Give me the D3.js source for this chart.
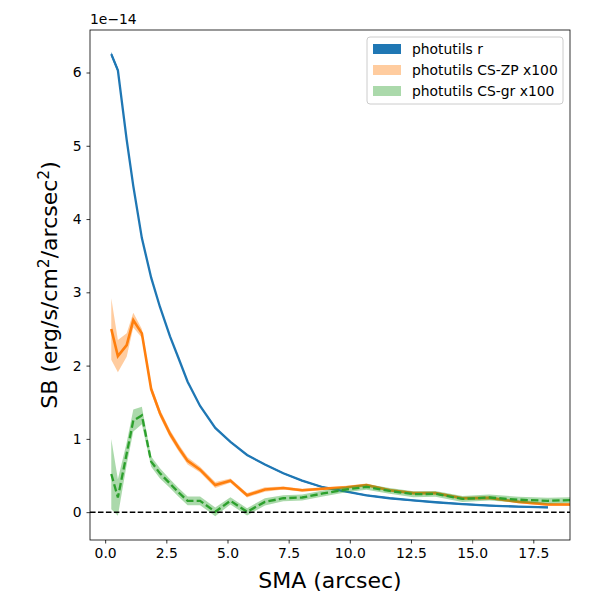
<!DOCTYPE html>
<html>
<head>
<meta charset="utf-8">
<script src="https://d3js.org/d3.v7.min.js"></script>
<style>
  body { margin: 0; background: #fff; }
  text { font-family: "DejaVu Sans", sans-serif; }
</style>
</head>
<body>
<div id="corpo"></div>
<script>
// semi-major axis (arcsec), shared by every profile
var sma = [0.25, 0.52, 0.88, 1.15, 1.5, 1.88, 2.24, 2.65, 3.0, 3.37, 3.88, 4.5, 5.12, 5.8,
           6.53, 7.28, 8.05, 8.9, 9.86, 10.68, 11.63, 12.6, 13.5, 14.6, 15.7, 16.9, 18.1, 19.5];

// values in units of 1e-14
var sbR = [6.25, 6.03, 5.08, 4.45, 3.74, 3.2, 2.8, 2.4, 2.1, 1.78, 1.45, 1.15, 0.96, 0.78,
           0.65, 0.53, 0.43, 0.34, 0.28, 0.23, 0.19, 0.16, 0.135, 0.11, 0.09, 0.075, 0.065];
var errR = [0.03, 0.03, 0.03, 0.025, 0.02, 0.02, 0.015, 0.015, 0.01, 0.01, 0.01, 0.01, 0.01, 0.01,
            0.01, 0.01, 0.01, 0.01, 0.01, 0.01, 0.01, 0.01, 0.01, 0.01, 0.01, 0.01, 0.01];

var sbZP = [2.5, 2.13, 2.28, 2.62, 2.44, 1.68, 1.35, 1.07, 0.88, 0.70, 0.58, 0.37, 0.43, 0.23,
            0.31, 0.33, 0.30, 0.32, 0.34, 0.37, 0.30, 0.26, 0.26, 0.19, 0.195, 0.14, 0.105, 0.105];
var errZP = [0.42, 0.22, 0.16, 0.1, 0.06, 0.05, 0.05, 0.05, 0.05, 0.05, 0.04, 0.04, 0.03, 0.03,
             0.03, 0.02, 0.02, 0.02, 0.02, 0.02, 0.02, 0.02, 0.02, 0.02, 0.02, 0.02, 0.02, 0.02];

var sbGR = [0.52, 0.2, 0.8, 1.25, 1.32, 0.69, 0.53, 0.39, 0.27, 0.155, 0.155, 0.005, 0.155, 0.005,
            0.14, 0.19, 0.2, 0.255, 0.31, 0.345, 0.29, 0.245, 0.25, 0.18, 0.2, 0.17, 0.155, 0.17];
var errGR = [0.48, 0.25, 0.15, 0.15, 0.12, 0.07, 0.07, 0.06, 0.06, 0.06, 0.06, 0.06, 0.05, 0.05,
             0.05, 0.04, 0.04, 0.04, 0.04, 0.04, 0.04, 0.04, 0.04, 0.04, 0.04, 0.04, 0.04, 0.04];

var xTicks = [0, 2.5, 5, 7.5, 10, 12.5, 15, 17.5];
var yTicks = [0, 1, 2, 3, 4, 5, 6];
var legendLabels = ["photutils r", "photutils CS-ZP x100", "photutils CS-gr x100"];

var width = 600, height = 600;
var margin = {left: 90, right: 30, top: 30, bottom: 60};
var w = width - margin.left - margin.right;
var h = height - margin.top - margin.bottom;

var svg = d3.select("#corpo").append("svg")
    .attr("width", width)
    .attr("height", height);

svg.append("defs").append("clipPath").attr("id", "clip")
    .append("rect").attr("width", w).attr("height", h);

var g = svg.append("g")
    .attr("transform", "translate(" + margin.left + "," + margin.top + ")");

var x = d3.scaleLinear().domain([-0.62, 19]).range([0, w]);
var y = d3.scaleLinear().domain([-0.38, 6.58]).range([h, 0]);

function rows(vals, errs){
    return vals.map(function(v, i){ return {x: sma[i], y: v, e: errs[i]}; });
}

var area = d3.area()
    .x(function(d){ return x(d.x); })
    .y0(function(d){ return y(d.y - d.e); })
    .y1(function(d){ return y(d.y + d.e); });

var line = d3.line()
    .x(function(d){ return x(d.x); })
    .y(function(d){ return y(d.y); });

var plot = g.append("g").attr("clip-path", "url(#clip)");

var series = [
    {data: rows(sbR, errR), color: "#1f77b4", alpha: 1, dash: null, lw: 2.3},
    {data: rows(sbZP, errZP), color: "#ff7f0e", alpha: 0.4, dash: null, lw: 2.6},
    {data: rows(sbGR, errGR), color: "#2ca02c", alpha: 0.4, dash: "7.4,3.2", lw: 2.3}
];

series.forEach(function(s){
    plot.append("path")
        .attr("d", area(s.data))
        .style("fill", s.color)
        .style("fill-opacity", s.alpha)
        .style("stroke", "none");
    plot.append("path")
        .attr("d", line(s.data))
        .style("fill", "none")
        .style("stroke", s.color)
        .style("stroke-width", s.lw)
        .style("stroke-dasharray", s.dash);
});

// zero line
plot.append("line")
    .attr("x1", 0).attr("x2", w)
    .attr("y1", y(0)).attr("y2", y(0))
    .style("stroke", "#000")
    .style("stroke-width", 1.5)
    .style("stroke-dasharray", "5.55,2.4");

// axes
var xAxis = g.append("g")
    .attr("transform", "translate(0," + h + ")")
    .call(d3.axisBottom(x).tickValues(xTicks).tickFormat(d3.format(".1f")).tickSizeOuter(0).tickSize(3.5).tickPadding(4.9));
var yAxis = g.append("g")
    .call(d3.axisLeft(y).tickValues(yTicks).tickFormat(d3.format("d")).tickSizeOuter(0).tickSize(3.5).tickPadding(4.9));

[xAxis, yAxis].forEach(function(a){
    a.select(".domain").remove();
    a.selectAll("text").style("font-size", "13.9px").style("fill", "#000")
        .style("font-family", "DejaVu Sans");
    a.selectAll("line").style("stroke", "#000").style("stroke-width", 0.8);
});

g.append("rect")
    .attr("width", w).attr("height", h)
    .style("fill", "none").style("stroke", "#000").style("stroke-width", 0.8);

// offset text
g.append("text")
    .attr("x", 0).attr("y", -6)
    .style("font-size", "13.9px")
    .text("1e\u221214");

// axis labels
svg.append("text")
    .attr("x", margin.left + w / 2).attr("y", 588)
    .attr("text-anchor", "middle")
    .style("font-size", "22px")
    .text("SMA (arcsec)");

var yl = svg.append("text")
    .attr("transform", "translate(57," + (margin.top + h / 2) + ") rotate(-90)")
    .attr("text-anchor", "middle")
    .style("font-size", "22px");
yl.append("tspan").text("SB (erg/s/cm");
yl.append("tspan").attr("dy", -8).style("font-size", "15.5px").text("2");
yl.append("tspan").attr("dy", 8).text("/arcsec");
yl.append("tspan").attr("dy", -8).style("font-size", "15.5px").text("2");
yl.append("tspan").attr("dy", 8).text(")");

// legend
var lg = g.append("g").attr("transform", "translate(" + (367 - margin.left) + "," + (37 - margin.top) + ")");
lg.append("rect")
    .attr("width", 196).attr("height", 67)
    .attr("rx", 3)
    .style("fill", "#fff").style("fill-opacity", 0.8)
    .style("stroke", "#cccccc").style("stroke-width", 1);

legendLabels.forEach(function(lbl, i){
    var row = lg.append("g").attr("transform", "translate(6," + (12 + i * 21) + ")");
    row.append("rect")
        .attr("x", 0).attr("y", -5).attr("width", 28).attr("height", 10)
        .style("fill", series[i].color)
        .style("fill-opacity", series[i].alpha);
    row.append("text")
        .attr("x", 39).attr("y", 5)
        .style("font-size", "13.9px")
        .text(lbl);
});
</script>
</body>
</html>
